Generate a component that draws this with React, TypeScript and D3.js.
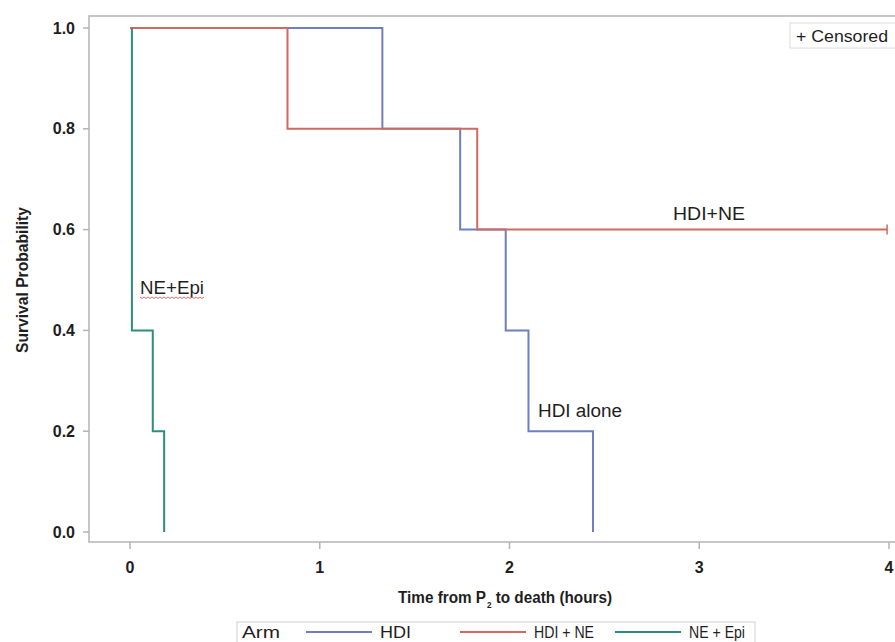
import React from 'react';
import * as d3 from 'd3';

// Kaplan-Meier steps: [time (hours), survival]
const hdiTimes = [0, 1.33, 1.74, 1.98, 2.1, 2.44];
const hdiSurv = [1.0, 0.8, 0.6, 0.4, 0.2, 0.0];
const hdiNeTimes = [0, 0.83, 1.83, 3.99];
const hdiNeSurv = [1.0, 0.8, 0.6, 0.6];
const neEpiTimes = [0.01, 0.01, 0.12, 0.18, 0.18];
const neEpiSurv = [1.0, 0.4, 0.2, 0.0, 0.0];
const censorTimes = [3.99];
const censorSurv = [0.6];

const xTicks = [0, 1, 2, 3, 4];
const yTicks = [0, 0.2, 0.4, 0.6, 0.8, 1.0];

const legendNames = ['HDI', 'HDI + NE', 'NE + Epi'];
const legendWidths = [31, 60, 56];
const colors = ['#6e7fc0', '#cf6a62', '#2f8d7e'];

const sans = "'Liberation Sans', Arial, sans-serif";

const App = () => {
  const width = 895;
  const height = 642;
  const frame = { left: 89, top: 16, right: 900, bottom: 542 };

  const x = d3.scaleLinear().domain([0, 4]).range([130, 889]);
  const y = d3.scaleLinear().domain([0, 1]).range([532, 28]);

  const line = d3
    .line<[number, number]>()
    .x((d) => x(d[0]))
    .y((d) => y(d[1]))
    .curve(d3.curveStepAfter);

  const series = [
    { times: hdiTimes, surv: hdiSurv, color: colors[0] },
    { times: hdiNeTimes, surv: hdiNeSurv, color: colors[1] },
    { times: neEpiTimes, surv: neEpiSurv, color: colors[2] },
  ];

  const axisGray = '#b4b4b4';
  const ink = '#1e1e1e';

  return (
    <svg
      width={width}
      height={height}
      style={{ position: 'absolute', left: 0, top: 0, background: '#fff' }}
    >
      <rect
        x={frame.left}
        y={frame.top}
        width={frame.right - frame.left}
        height={frame.bottom - frame.top}
        fill='none'
        stroke={axisGray}
        strokeWidth={1.5}
      />
      {yTicks.map((t) => (
        <g key={'y' + t}>
          <line x1={frame.left - 6} x2={frame.left} y1={y(t)} y2={y(t)} stroke={axisGray} strokeWidth={1.5} />
          <text
            x={frame.left - 14}
            y={y(t) + 5.5}
            textAnchor='end'
            fontFamily={sans}
            fontWeight='bold'
            fontSize={16}
            fill={ink}
          >
            {t.toFixed(1)}
          </text>
        </g>
      ))}
      {xTicks.map((t) => (
        <g key={'x' + t}>
          <line x1={x(t)} x2={x(t)} y1={frame.bottom} y2={frame.bottom + 7} stroke={axisGray} strokeWidth={1.5} />
          <text
            x={x(t)}
            y={frame.bottom + 31}
            textAnchor='middle'
            fontFamily={sans}
            fontWeight='bold'
            fontSize={16}
            fill={ink}
          >
            {t}
          </text>
        </g>
      ))}
      <g transform='translate(398,603) scale(0.9,1)'>
        <text x={0} y={0} fontFamily={sans} fontWeight='bold' fontSize={17} fill={ink}>
          Time from P
          <tspan fontSize={9} dx={1} dy={5}>2</tspan>
          <tspan dy={-5}> to death (hours)</tspan>
        </text>
      </g>
      <text
        transform='translate(28,280) rotate(-90)'
        textAnchor='middle'
        fontFamily={sans}
        fontWeight='bold'
        fontSize={16}
        fill={ink}
        textLength={146}
        lengthAdjust='spacingAndGlyphs'
      >
        Survival Probability
      </text>

      {series.map((s, i) => (
        <path
          key={i}
          d={line(s.times.map((t, j) => [t, s.surv[j]] as [number, number])) || ''}
          fill='none'
          stroke={s.color}
          strokeWidth={2}
        />
      ))}
      {censorTimes.map((t, i) => (
        <line
          key={'c' + i}
          x1={x(t)}
          x2={x(t)}
          y1={y(censorSurv[i]) - 5}
          y2={y(censorSurv[i]) + 5}
          stroke={colors[1]}
          strokeWidth={1.5}
        />
      ))}

      {/* inline labels */}
      <text x={140} y={294} fontFamily={sans} fontSize={18} fill={ink} textLength={64} lengthAdjust='spacingAndGlyphs'>NE+Epi</text>
      <path
        d={d3.range(0, 33).map((i) => `${i === 0 ? 'M' : 'L'}${140 + i * 2},${297 + (i % 2) * 1.5}`).join('')}
        fill='none'
        stroke='#e86a6a'
        strokeWidth={1}
      />
      <text x={538} y={417} fontFamily={sans} fontSize={18} fill={ink} textLength={84} lengthAdjust='spacingAndGlyphs'>HDI alone</text>
      <text x={673} y={220} fontFamily={sans} fontSize={18} fill={ink} textLength={72} lengthAdjust='spacingAndGlyphs'>HDI+NE</text>

      {/* censored legend */}
      <rect x={790} y={23} width={110} height={25} fill='#fff' stroke='#dcdcdc' strokeWidth={1} />
      <text x={796} y={42} fontFamily={sans} fontSize={16} fill={ink} textLength={92} lengthAdjust='spacingAndGlyphs'>+ Censored</text>

      {/* bottom legend */}
      <rect x={237} y={622} width={518} height={30} fill='#fff' stroke='#d0d0d0' strokeWidth={1} />
      <text x={242} y={638} fontFamily={sans} fontSize={16} fill={ink} textLength={38} lengthAdjust='spacingAndGlyphs'>Arm</text>
      {legendNames.map((name, i) => {
        const lx = [306, 460, 615][i];
        return (
          <g key={name}>
            <line x1={lx} x2={lx + 66} y1={632} y2={632} stroke={colors[i]} strokeWidth={2} />
            <text
              x={lx + 74}
              y={638}
              fontFamily={sans}
              fontSize={16}
              fill={ink}
              textLength={legendWidths[i]}
              lengthAdjust='spacingAndGlyphs'
            >
              {name}
            </text>
          </g>
        );
      })}
    </svg>
  );
};

export default App;
